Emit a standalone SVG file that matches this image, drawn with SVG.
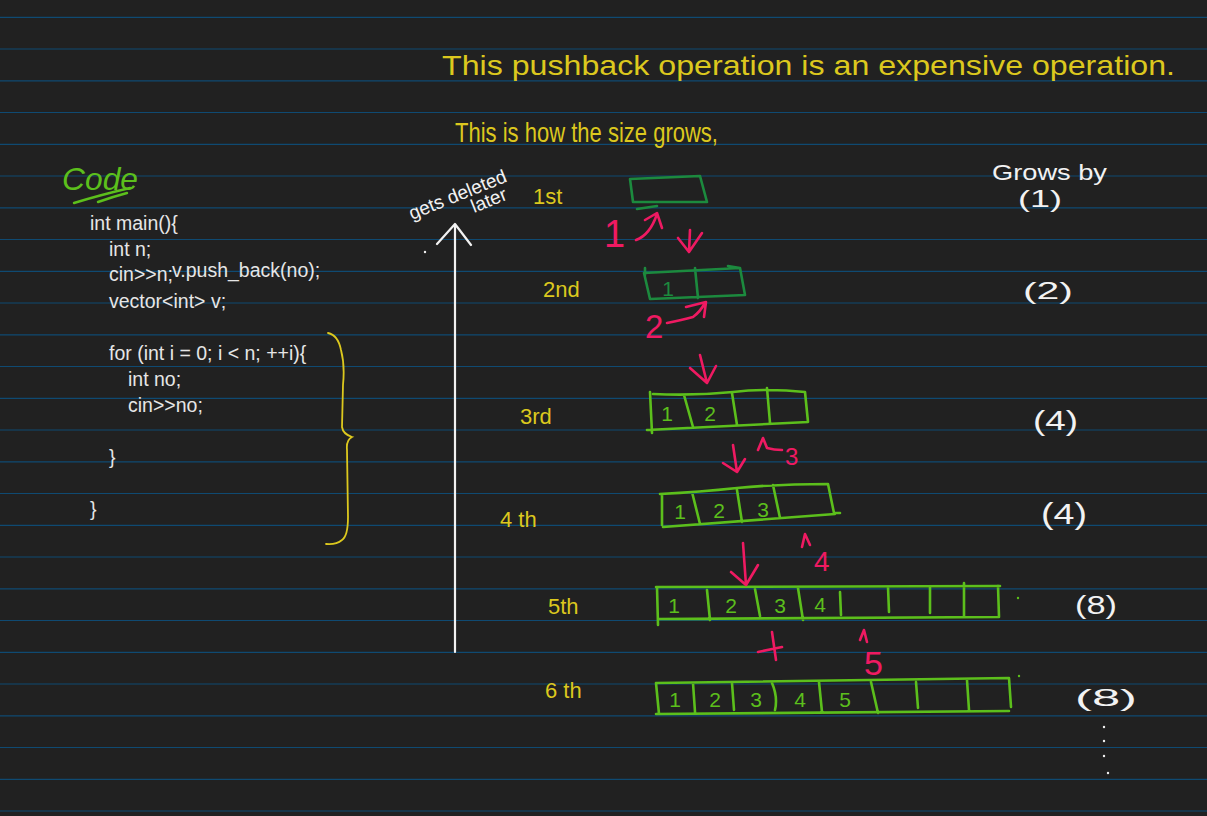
<svg xmlns="http://www.w3.org/2000/svg" width="1207" height="816" viewBox="0 0 1207 816">
<style>
.rule{stroke:#0f4a72;stroke-width:1.2}
.code{font-family:"Liberation Sans",Arial,sans-serif;font-size:19.5px;fill:#e6e6e6}
.hw{font-family:"Liberation Sans",Arial,sans-serif}
.yel{fill:#dcc81e}
.wht{fill:#f2f2f2}
.red{fill:#ef1a62}
.bg{fill:none;stroke:#5cbf1c;stroke-width:2.6;stroke-linecap:round;stroke-linejoin:round}
.dg{fill:none;stroke:#1c8a3e;stroke-width:2.6;stroke-linecap:round;stroke-linejoin:round}
.rs{fill:none;stroke:#ef1a62;stroke-width:2.6;stroke-linecap:round;stroke-linejoin:round}
.ws{fill:none;stroke:#f2f2f2;stroke-width:2.2;stroke-linecap:round;stroke-linejoin:round}
.ys{fill:none;stroke:#dcc81e;stroke-width:1.8;stroke-linecap:round}
.num{font-family:"Liberation Sans",Arial,sans-serif;font-size:21px;text-anchor:middle}
</style>
<rect width="1207" height="816" fill="#212121"/>
<g id="rules">
<line class="rule" x1="0" y1="17.3" x2="1207" y2="17.3"/>
<line class="rule" x1="0" y1="49" x2="1207" y2="49"/>
<line class="rule" x1="0" y1="80.8" x2="1207" y2="80.8"/>
<line class="rule" x1="0" y1="112.5" x2="1207" y2="112.5"/>
<line class="rule" x1="0" y1="144.3" x2="1207" y2="144.3"/>
<line class="rule" x1="0" y1="176" x2="1207" y2="176"/>
<line class="rule" x1="0" y1="207.8" x2="1207" y2="207.8"/>
<line class="rule" x1="0" y1="239.5" x2="1207" y2="239.5"/>
<line class="rule" x1="0" y1="271.3" x2="1207" y2="271.3"/>
<line class="rule" x1="0" y1="303" x2="1207" y2="303"/>
<line class="rule" x1="0" y1="334.8" x2="1207" y2="334.8"/>
<line class="rule" x1="0" y1="366.5" x2="1207" y2="366.5"/>
<line class="rule" x1="0" y1="398.3" x2="1207" y2="398.3"/>
<line class="rule" x1="0" y1="430" x2="1207" y2="430"/>
<line class="rule" x1="0" y1="461.8" x2="1207" y2="461.8"/>
<line class="rule" x1="0" y1="493.5" x2="1207" y2="493.5"/>
<line class="rule" x1="0" y1="525.3" x2="1207" y2="525.3"/>
<line class="rule" x1="0" y1="557" x2="1207" y2="557"/>
<line class="rule" x1="0" y1="588.8" x2="1207" y2="588.8"/>
<line class="rule" x1="0" y1="620.5" x2="1207" y2="620.5"/>
<line class="rule" x1="0" y1="652.3" x2="1207" y2="652.3"/>
<line class="rule" x1="0" y1="684" x2="1207" y2="684"/>
<line class="rule" x1="0" y1="715.8" x2="1207" y2="715.8"/>
<line class="rule" x1="0" y1="747.5" x2="1207" y2="747.5"/>
<line class="rule" x1="0" y1="779.3" x2="1207" y2="779.3"/>
<line class="rule" x1="0" y1="811" x2="1207" y2="811"/>
</g>

<g id="title">
<text class="hw yel" x="442" y="75" font-size="28" textLength="733" lengthAdjust="spacingAndGlyphs">This pushback operation is an expensive operation.</text>
<text class="hw yel" x="455" y="142" font-size="28" textLength="263" lengthAdjust="spacingAndGlyphs">This is how the size grows,</text>
</g>

<g id="code-heading">
<text class="hw" x="62" y="190" font-size="32" font-style="italic" fill="#5cbf1c" textLength="76" lengthAdjust="spacingAndGlyphs">Code</text>
<path d="M74,203 Q100,195 130,188 M98,202 Q112,197 127,193" fill="none" stroke="#5cbf1c" stroke-width="2.4" stroke-linecap="round"/>
</g>

<g id="code">
<text class="code" x="90" y="230">int main(){</text>
<text class="code" x="109" y="256">int n;</text>
<text class="code" x="109" y="281">cin&gt;&gt;n;</text>
<text class="code" x="172" y="277">v.push_back(no);</text>
<text class="code" x="109" y="308">vector&lt;int&gt; v;</text>
<text class="code" x="109" y="360">for (int i = 0; i &lt; n; ++i){</text>
<text class="code" x="128" y="386">int no;</text>
<text class="code" x="128" y="412">cin&gt;&gt;no;</text>
<text class="code" x="109" y="464">}</text>
<text class="code" x="90" y="516">}</text>
</g>

<g id="brace">
<path class="ys" d="M328,333 Q338,335 341,350 Q345,365 343,385 L342,427 Q343,434 352,437 Q346,440 347,450 L348,517 Q348,536 342,540 Q336,545 326,544"/>
</g>

<g id="deleted-note">
<text class="hw wht" font-size="19" transform="translate(412,220) rotate(-22)">gets deleted</text>
<text class="hw wht" font-size="19" transform="translate(474,213) rotate(-22)">later</text>
<path class="ws" d="M455,225 L455,652 M437,244 L455,224 L471,245"/>
<circle cx="425" cy="252" r="1.2" fill="#f2f2f2"/>
</g>

<g id="row-labels">
<text class="hw yel" x="533" y="204" font-size="22">1st</text>
<text class="hw yel" x="543" y="297" font-size="22">2nd</text>
<text class="hw yel" x="520" y="424" font-size="22">3rd</text>
<text class="hw yel" x="500" y="527" font-size="22">4 th</text>
<text class="hw yel" x="548" y="614" font-size="22">5th</text>
<text class="hw yel" x="545" y="698" font-size="22">6 th</text>
</g>

<g id="box1">
<path class="dg" d="M630,179 L700,176 L707,202 L633,202 Z"/>
<path class="dg" d="M637,209 L657,206"/>
</g>

<g id="box2">
<path class="dg" d="M644,273 L740,268 L745,295 L650,299 Z M645,268 L645,275 M695,268 L698,298 M728,266 L740,268"/>
<text class="num" x="668" y="296" fill="#1c8a3e">1</text>
</g>

<g id="box3">
<path class="bg" d="M650,392 L652,433 M653,394 Q693,396 733,392 Q767,388 805,392 L808,422 L647,430 M684,395 L693,427 M732,393 L737,425 M767,388 L770,423"/>
<text class="num" x="667" y="421" fill="#5cbf1c">1</text>
<text class="num" x="710" y="421" fill="#5cbf1c">2</text>
</g>

<g id="box4">
<path class="bg" d="M662,494 L662,525 M660,494 Q700,492 737,488 Q780,484 828,484 L834,513 L840,513 M835,514 L663,527 M692,492 L700,524 M737,490 L742,522 M773,485 L780,518"/>
<text class="num" x="680" y="519" fill="#5cbf1c">1</text>
<text class="num" x="719" y="518" fill="#5cbf1c">2</text>
<text class="num" x="763" y="517" fill="#5cbf1c">3</text>
</g>

<g id="box5">
<path class="bg" d="M656,587 L1000,586 M998,586 L999,617 L658,619 M657,587 L658,625 M707,590 L710,620 M755,589 L760,616 M798,588 L803,620 M840,592 L841,615 M888,587 L889,612 M930,587 L930,613 M964,583 L964,617"/>
<text class="num" x="674" y="613" fill="#5cbf1c">1</text>
<text class="num" x="731" y="613" fill="#5cbf1c">2</text>
<text class="num" x="780" y="613" fill="#5cbf1c">3</text>
<text class="num" x="820" y="612" fill="#5cbf1c">4</text>
<circle cx="1018" cy="598" r="1.2" fill="#5cbf1c"/>
</g>

<g id="box6">
<path class="bg" d="M656,683 L1009,678 L1011,707 M1009,711 L656,714 M656,683 L659,714 M693,683 L695,712 M732,683 L734,710 M772,683 Q778,697 775,710 M819,682 L822,712 M871,682 L878,713 M916,682 L918,708 M967,680 L969,710"/>
<text class="num" x="675" y="707" fill="#5cbf1c">1</text>
<text class="num" x="715" y="707" fill="#5cbf1c">2</text>
<text class="num" x="756" y="707" fill="#5cbf1c">3</text>
<text class="num" x="800" y="707" fill="#5cbf1c">4</text>
<text class="num" x="845" y="707" fill="#5cbf1c">5</text>
<circle cx="1019" cy="676" r="1.2" fill="#5cbf1c"/>
</g>

<g id="connectors">
<path class="rs" d="M636,240 Q650,235 657,214 M645,220 L657,213 L662,228"/>
<path class="rs" d="M690,230 L689,252 M678,238 L689,252 L702,233"/>
<path class="rs" d="M667,323 Q682,320 693,317 Q700,312 705,303 M686,307 L706,302 L704,317"/>
<path class="rs" d="M700,355 L707,383 M690,368 L707,383 L716,366"/>
<path class="rs" d="M733,445 L737,472 M723,463 L737,472 L745,459"/>
<path class="rs" d="M758,450 L763,438 L767,448 Q774,450 782,450"/>
<path class="rs" d="M743,543 L746,585 M731,572 L746,585 L758,565"/>
<path class="rs" d="M802,547 L805,534 L810,545"/>
<path class="rs" d="M772,632 L776,660 M758,652 L782,647"/>
<path class="rs" d="M867,642 L864,630 L860,640"/>
</g>

<g id="step-numbers">
<text class="hw red" x="604" y="247" font-size="38">1</text>
<text class="hw red" x="645" y="338" font-size="33">2</text>
<text class="hw red" x="785" y="465" font-size="24">3</text>
<text class="hw red" x="814" y="571" font-size="28">4</text>
<text class="hw red" x="864" y="675" font-size="34">5</text>
</g>

<g id="grows-by">
<text class="hw wht" x="992" y="180" font-size="22" textLength="115" lengthAdjust="spacingAndGlyphs">Grows by</text>
<text class="hw wht" x="1018" y="207" font-size="24" textLength="44" lengthAdjust="spacingAndGlyphs">(1)</text>
<text class="hw wht" x="1023" y="299" font-size="24" textLength="50" lengthAdjust="spacingAndGlyphs">(2)</text>
<text class="hw wht" x="1033" y="430" font-size="28" textLength="45" lengthAdjust="spacingAndGlyphs">(4)</text>
<text class="hw wht" x="1041" y="524" font-size="30" textLength="46" lengthAdjust="spacingAndGlyphs">(4)</text>
<text class="hw wht" x="1075" y="614" font-size="26" textLength="42" lengthAdjust="spacingAndGlyphs">(8)</text>
<text class="hw wht" x="1075" y="706" font-size="24" textLength="62" lengthAdjust="spacingAndGlyphs">(8)</text>
<circle cx="1104" cy="727" r="1.2" fill="#f2f2f2"/>
<circle cx="1104" cy="741" r="1.2" fill="#f2f2f2"/>
<circle cx="1104" cy="756" r="1.2" fill="#f2f2f2"/>
<circle cx="1108" cy="773" r="1.2" fill="#f2f2f2"/>
</g>
</svg>
